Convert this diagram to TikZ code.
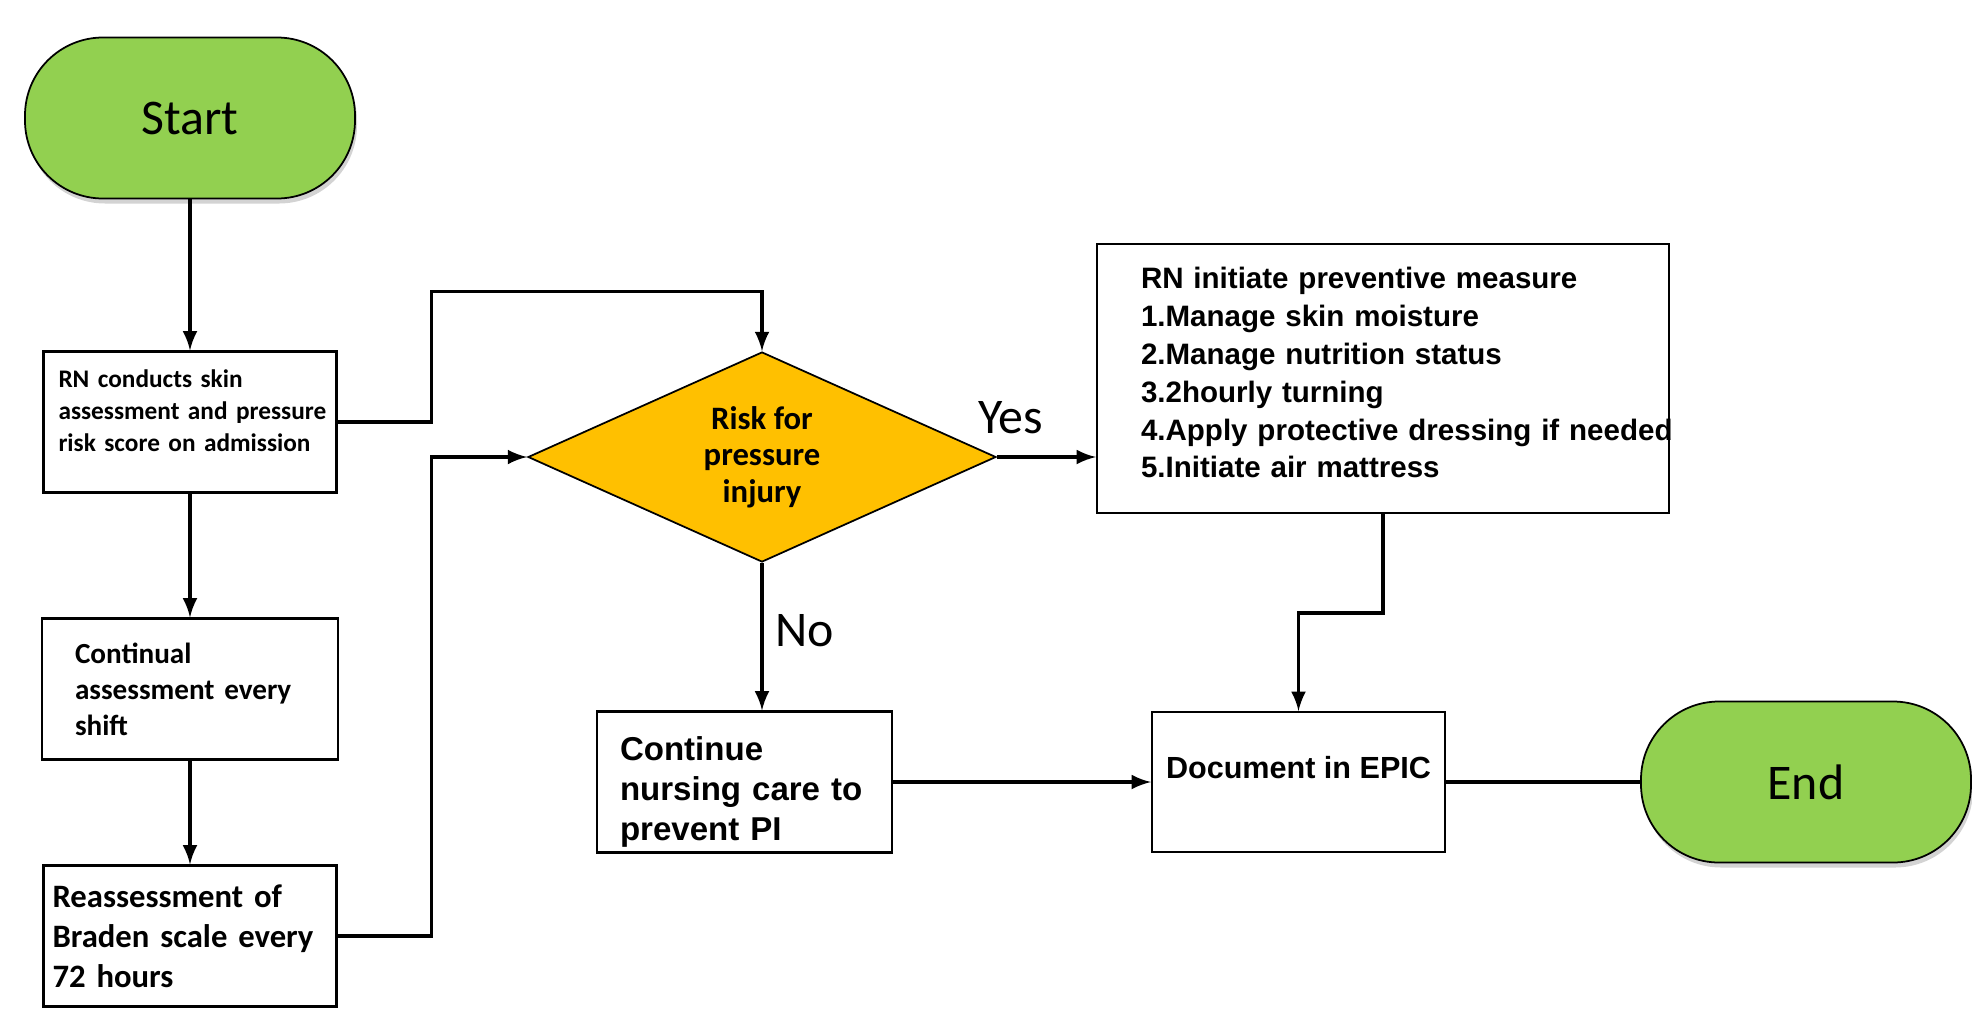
\documentclass[tikz,border=0pt]{standalone}
\usepackage{fontspec}
\setmainfont{Carlito}
\newfontfamily\arialfont{Liberation Sans}
\usetikzlibrary{positioning,shapes.geometric,shadows}
\definecolor{termgreen}{HTML}{92D050}
\definecolor{riskgold}{HTML}{FFC000}

\begin{document}
\begin{tikzpicture}[-latex ,auto ,node distance =1 cm and 2cm ,on grid ,
    line width=0.9pt ,
    terminal/.style ={rectangle ,rounded corners=0.78cm ,draw ,line width=0.5pt ,
    fill=termgreen ,minimum width=3.3cm ,minimum height=1.61cm ,
    font=\fontsize{14.2}{17}\selectfont ,
    drop shadow={shadow xshift=0.02cm ,shadow yshift=-0.05cm ,opacity=0.35}},
    process/.style ={rectangle ,draw ,line width=0.6pt ,align=left ,minimum height=1.41cm},
    decision/.style ={diamond ,aspect=2.2 ,draw ,line width=0.5pt ,fill=riskgold ,
    minimum width=4.68cm ,minimum height=2.1cm ,inner sep=0pt ,align=center ,
    font=\bfseries\fontsize{9.3}{10.4}\selectfont},
    answer/.style ={font=\fontsize{14.2}{17}\selectfont}
    ]
\useasboundingbox (0,0) rectangle (19.72,-10.10);

\node[terminal] (start) at (1.9,-1.18) {Start};
\node[process ,inner xsep=0.15cm ,text width=2.63cm ,text depth=0.86cm ,
  font=\bfseries\fontsize{7.2}{9.1}\selectfont] (assess) [below =3.04 of start]
  {RN conducts skin\\\mbox{assessment and pressure}\\risk score on admission};
\node[process ,inner xsep=0.33cm ,text width=2.3cm ,
  font=\bfseries\fontsize{8.3}{10.2}\selectfont] (shift) [below =2.67 of assess]
  {Continual\\assessment every\\shift};
\node[process ,inner xsep=0.09cm ,text width=2.75cm ,
  font=\bfseries\fontsize{9.3}{11.4}\selectfont] (braden) [below =2.47 of shift]
  {Reassessment of\\Braden scale every\\72 hours};

\node[decision] (risk) at (7.62,-4.57) {Risk for\\pressure\\injury};
\node[process ,inner xsep=0.44cm ,text width=4.84cm ,minimum height=2.69cm ,text depth=2.02cm ,
  font=\arialfont\bfseries\fontsize{8.4}{10.8}\selectfont] (prevent)
  [right =6.21 of risk ,yshift=0.785cm]
  {RN initiate preventive measure\\1.Manage skin moisture\\2.Manage nutrition status\\3.2hourly turning\\\mbox{4.Apply protective dressing if needed}\\5.Initiate air mattress};
\node[process ,inner xsep=0.23cm ,inner ysep=0pt ,text width=2.49cm ,text height=0.44cm ,
  font=\arialfont\bfseries\fontsize{9.4}{11.4}\selectfont] (care)
  [below =3.25 of risk ,xshift=-0.175cm]
  {Continue\\nursing care to\\prevent PI};
\node[process ,align=center ,minimum width=2.93cm ,minimum height=1.4cm ,text depth=0.3cm ,
  font=\arialfont\bfseries\fontsize{8.7}{10.4}\selectfont] (epic) [right =5.54 of care]
  {Document in EPIC};
\node[terminal] (finish) [right =5.075 of epic] {End};

\draw (start) -- (assess);
\draw (assess) -- (shift);
\draw (shift) -- (braden);
\draw (assess.east) -- ++(0.94,0) |- ([yshift=0.6cm]risk.north) -- (risk.north);
\draw (braden.east) -- ++(0.94,0) |- (risk.west);
\draw (risk.east) -- node[answer ,pos=0.14 ,above ,yshift=0.1cm] {Yes} (risk.east -| prevent.west);
\draw (risk.south) -- node[answer ,pos=0.46 ,right] {No} (risk.south |- care.north);
\draw (care.east) -- (epic.west);
\draw (prevent.south) -- ++(0,-0.99) -| (epic.north);
\draw[-] (epic.east) -- (finish.west);
\end{tikzpicture}
\end{document}
